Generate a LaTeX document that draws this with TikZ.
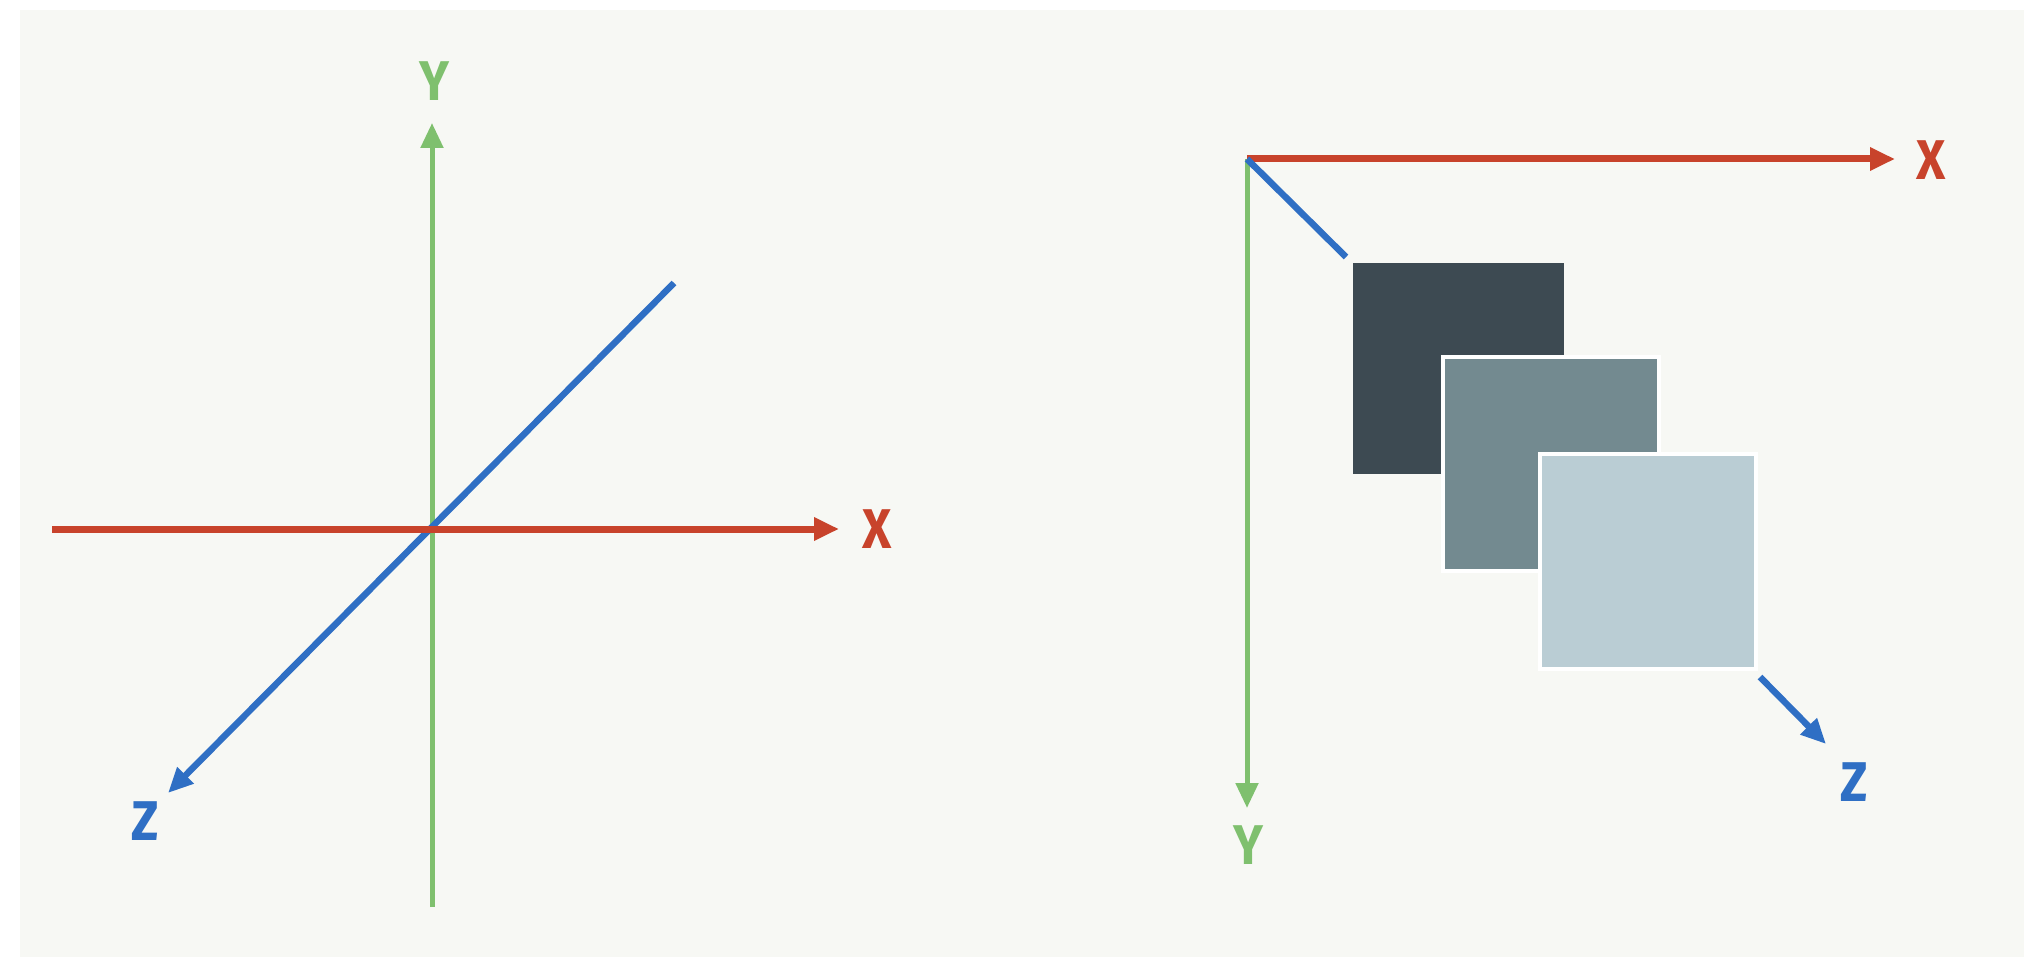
\documentclass[tikz,border=0pt]{standalone}
\usepackage{fontspec}
\setmainfont{Fira Sans}
\usetikzlibrary{arrows.meta}
\definecolor{bgc}{HTML}{F7F8F4}
\definecolor{axred}{HTML}{C8432B}
\definecolor{axgreen}{HTML}{7FC06E}
\definecolor{axblue}{HTML}{2F6FC4}
\definecolor{boxa}{HTML}{3D4A52}
\definecolor{boxb}{HTML}{738A90}
\definecolor{boxc}{HTML}{BACDD4}
\begin{document}
\begin{tikzpicture}[x=1pt,y=-1pt,
  axis/.style={line width=#1, -{Triangle[length=25pt,width=22pt]}},
  axis/.default=6pt,
  lab/.style={font=\fontsize{56}{56}\selectfont\bfseries, inner sep=0pt, xscale=0.9},
  layer/.style={draw=white, line width=4pt}]
\useasboundingbox (0,0) rectangle (2024,957);
\fill[bgc] (20,10) rectangle (2024,957);
% ---- left diagram ----
\coordinate (yb) at (432,907);
\coordinate (yt) at (432,123);
\coordinate (xl) at (52,529);
\coordinate (xr) at (839,529);
\coordinate (zt) at (674,283);
\coordinate (zb) at (168,793);
\draw[axis=5pt, axgreen] (yb) -- (yt);
\draw[axis=6.5pt, axblue] (zt) -- (zb);
\draw[axis=7pt, axred] (xl) -- (xr);
\node[lab, text=axgreen] (ly) at (434,81) {Y};
\node[lab, text=axred] (lx) at (877,529) {X};
\node[lab, text=axblue] (lz) at (145,821) {Z};
% ---- right diagram ----
\coordinate (o) at (1247,159);
\coordinate (xe) at (1895,159);
\coordinate (ye) at (1247,808);
\coordinate (zs) at (1346,257);
\coordinate (zm) at (1760,677);
\coordinate (ze) at (1826,744);
\draw[axis=5pt, axgreen] (o) -- (ye);
\draw[axis=7pt, axred] (o) -- (xe);
\draw[line width=6.5pt, axblue] (o) -- (zs);
\draw[axis=6.5pt, axblue] (zm) -- (ze);
\node[lab, text=axred] (rx) at (1931,160) {X};
\node[lab, text=axgreen] (ry) at (1248,845) {Y};
\node[lab, text=axblue] (rz) at (1854,782) {Z};
\fill[boxa] (1353,263) rectangle (1564,474);
\filldraw[boxb, layer] (1443,357) rectangle (1659,571);
\filldraw[boxc, layer] (1540,454) rectangle (1756,669);
\end{tikzpicture}
\end{document}
